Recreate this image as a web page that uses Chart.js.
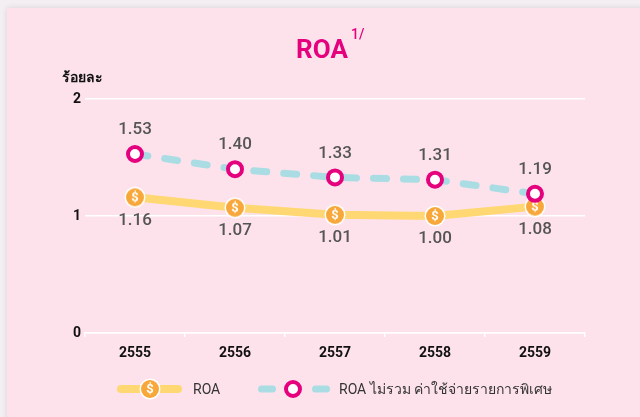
<!DOCTYPE html>
<html>
<head>
<meta charset="utf-8">
<script src="https://cdn.jsdelivr.net/npm/chart.js@4"></script>
<style>
html, body { margin: 0; padding: 0; background: #f4eff2; overflow: hidden; }
#card { position: absolute; left: 7px; top: 8px; width: 660px; height: 430px; background: #fde2ec; box-shadow: 0 0 6px rgba(0,0,0,0.12); }
#wrap { position: absolute; left: 0; top: 0; }
</style>
</head>
<body>
<div id="card"></div>
<div id="wrap"><canvas id="roaChart" width="640" height="417"></canvas></div>
<script>
const years = ['2555', '2556', '2557', '2558', '2559'];
const roa = [1.16, 1.07, 1.01, 1.00, 1.08];
const roaExSpecial = [1.53, 1.40, 1.33, 1.31, 1.19];
const yTicks = [0, 1, 2];

const FONT = 'Roboto, "Noto Sans", sans-serif';
const gold = '#ffd873';
const orange = '#f8a83a';
const pink = '#e5007e';
const blue = '#a9dde3';

// gold "$" marker used as point style
function makeGoldMarker() {
    const c = document.createElement('canvas');
    c.width = 22; c.height = 22;
    const g = c.getContext('2d');
    g.fillStyle = '#fff';
    g.beginPath(); g.arc(11, 11, 10.5, 0, Math.PI * 2); g.fill();
    g.fillStyle = orange;
    g.beginPath(); g.arc(11, 11, 9, 0, Math.PI * 2); g.fill();
    g.fillStyle = '#fff';
    g.font = 'bold 13px ' + FONT;
    g.textAlign = 'center';
    g.textBaseline = 'middle';
    g.fillText('$', 11, 11.5);
    return c;
}
const goldMarker = makeGoldMarker();

const valueLabels = {
    id: 'valueLabels',
    afterDatasetsDraw(chart) {
        const ctx = chart.ctx;
        ctx.save();
        ctx.font = '500 17px ' + FONT;
        ctx.fillStyle = '#555';
        ctx.textAlign = 'center';
        ctx.textBaseline = 'middle';
        chart.data.datasets.forEach((ds, i) => {
            chart.getDatasetMeta(i).data.forEach((pt, j) => {
                ctx.fillText(ds.data[j].toFixed(2), pt.x, pt.y + ds.labelOffset);
            });
        });
        ctx.restore();
    }
};

const decorations = {
    id: 'decorations',
    afterDraw(chart) {
        const ctx = chart.ctx;
        ctx.save();
        // title
        ctx.fillStyle = pink;
        ctx.textBaseline = 'alphabetic';
        ctx.textAlign = 'center';
        ctx.font = 'bold 26px ' + FONT;
        ctx.fillText('ROA', 322, 58);
        ctx.textAlign = 'left';
        ctx.font = '500 14px ' + FONT;
        ctx.fillText('1/', 351, 39);
        // unit
        ctx.fillStyle = '#111';
        ctx.font = 'bold 14px ' + FONT;
        ctx.fillText('ร้อยละ', 62, 82);

        // legend
        const y = 389;
        ctx.lineCap = 'round';
        ctx.strokeStyle = gold;
        ctx.lineWidth = 8;
        ctx.beginPath(); ctx.moveTo(121, y); ctx.lineTo(178, y); ctx.stroke();
        ctx.drawImage(goldMarker, 150 - 11, y - 11);

        ctx.strokeStyle = blue;
        ctx.lineWidth = 7;
        ctx.beginPath(); ctx.moveTo(261.5, y); ctx.lineTo(272.5, y); ctx.stroke();
        ctx.beginPath(); ctx.moveTo(315.5, y); ctx.lineTo(326.5, y); ctx.stroke();
        ctx.strokeStyle = pink;
        ctx.lineWidth = 4;
        ctx.fillStyle = '#fff';
        ctx.beginPath(); ctx.arc(293, y, 7, 0, Math.PI * 2); ctx.fill(); ctx.stroke();

        ctx.fillStyle = '#333';
        ctx.font = '14px ' + FONT;
        ctx.textBaseline = 'middle';
        ctx.fillText(chart.data.datasets[0].label, 193, y + 1);
        ctx.fillText(chart.data.datasets[1].label, 339, y + 1);
        ctx.restore();
    }
};

const ctx = document.getElementById('roaChart').getContext('2d');
new Chart(ctx, {
    type: 'line',
    data: {
        labels: years,
        datasets: [
            {
                label: 'ROA',
                data: roa,
                borderColor: gold,
                borderWidth: 8,
                pointStyle: goldMarker,
                order: 2,
                labelOffset: 23
            },
            {
                label: 'ROA ไม่รวม ค่าใช้จ่ายรายการพิเศษ',
                data: roaExSpecial,
                borderColor: blue,
                borderWidth: 7,
                borderDash: [13, 17],
                borderCapStyle: 'round',
                pointRadius: 7,
                pointBorderWidth: 4,
                pointBorderColor: pink,
                pointBackgroundColor: '#fff',
                order: 1,
                labelOffset: -24
            }
        ]
    },
    options: {
        responsive: false,
        animation: false,
        layout: { padding: { top: 99, right: 55, left: 0, bottom: 0 } },
        plugins: {
            legend: { display: false },
            tooltip: { enabled: false }
        },
        scales: {
            x: {
                offset: true,
                grid: { offset: true, drawOnChartArea: false, color: '#fff', lineWidth: 1.5, tickLength: 4 },
                border: { color: '#fff', width: 1.5 },
                ticks: { color: '#111', padding: 8, font: { size: 14, weight: 'bold', family: FONT } },
                afterFit(s) { s.height = 84; }
            },
            y: {
                min: 0,
                max: 2,
                grid: { color: '#fff', lineWidth: 1.5, drawTicks: false },
                border: { display: false },
                ticks: { color: '#111', padding: 4, font: { size: 14, weight: 'bold', family: FONT } },
                afterBuildTicks(s) { s.ticks = yTicks.map(v => ({ value: v })); },
                afterFit(s) { s.width = 85; }
            }
        }
    },
    plugins: [valueLabels, decorations]
});
</script>
</body>
</html>
